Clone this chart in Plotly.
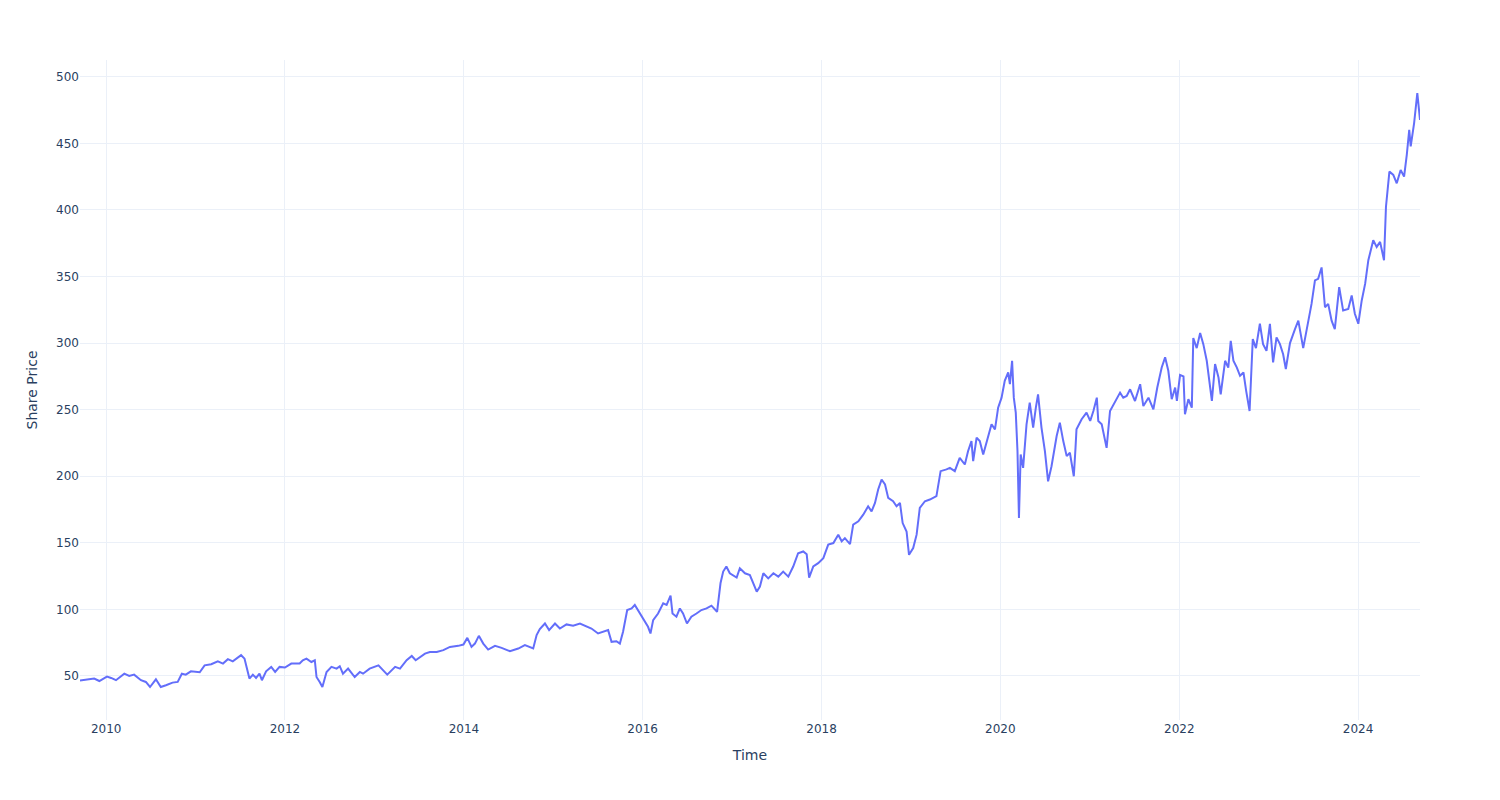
import plotly.graph_objects as go

dates = [
    "2009-09-16", "2009-10-24", "2009-11-13", "2009-12-04", "2010-01-04", "2010-01-21", "2010-02-10",
    "2010-03-16", "2010-04-05", "2010-04-25", "2010-05-23", "2010-06-12", "2010-06-29", "2010-07-23",
    "2010-08-12", "2010-09-02", "2010-09-29", "2010-10-20", "2010-11-06", "2010-11-22", "2010-12-13",
    "2011-01-18", "2011-02-07", "2011-03-06", "2011-04-02", "2011-04-23", "2011-05-13", "2011-06-02",
    "2011-07-06", "2011-07-20", "2011-08-03", "2011-08-09", "2011-08-23", "2011-09-05", "2011-09-19",
    "2011-09-29", "2011-10-16", "2011-11-06", "2011-11-22", "2011-12-10", "2012-01-01", "2012-01-27",
    "2012-03-01", "2012-03-14", "2012-03-29", "2012-04-18", "2012-05-02", "2012-05-09", "2012-05-22",
    "2012-06-02", "2012-06-19", "2012-07-09", "2012-07-30", "2012-08-12", "2012-08-25", "2012-09-15",
    "2012-10-12", "2012-11-02", "2012-11-15", "2012-12-12", "2013-01-17", "2013-02-06", "2013-02-22",
    "2013-03-26", "2013-04-15", "2013-05-12", "2013-06-02", "2013-06-18", "2013-07-26", "2013-08-15",
    "2013-09-12", "2013-10-09", "2013-11-05", "2013-12-09", "2013-12-30", "2014-01-15", "2014-02-01",
    "2014-02-15", "2014-03-03", "2014-03-21", "2014-04-10", "2014-05-08", "2014-06-04", "2014-07-08",
    "2014-08-11", "2014-09-07", "2014-10-11", "2014-10-25", "2014-11-07", "2014-11-28", "2014-12-15",
    "2015-01-08", "2015-01-28", "2015-02-24", "2015-03-23", "2015-04-20", "2015-05-10", "2015-06-06",
    "2015-07-03", "2015-07-24", "2015-08-13", "2015-08-27", "2015-09-16", "2015-09-30", "2015-10-13",
    "2015-10-30", "2015-11-17", "2015-11-30", "2015-12-13", "2016-01-03", "2016-01-23", "2016-02-02",
    "2016-02-13", "2016-03-04", "2016-03-25", "2016-04-08", "2016-04-24", "2016-05-02", "2016-05-18",
    "2016-06-01", "2016-06-14", "2016-06-30", "2016-07-18", "2016-08-08", "2016-08-28", "2016-09-18",
    "2016-10-08", "2016-10-31", "2016-11-14", "2016-11-25", "2016-12-08", "2016-12-22", "2017-01-19",
    "2017-02-01", "2017-02-22", "2017-03-14", "2017-03-28", "2017-04-11", "2017-04-24", "2017-05-08",
    "2017-05-28", "2017-06-18", "2017-07-08", "2017-07-28", "2017-08-18", "2017-09-07", "2017-09-27",
    "2017-10-18", "2017-11-01", "2017-11-11", "2017-11-28", "2017-12-18", "2018-01-08", "2018-01-28",
    "2018-02-18", "2018-03-10", "2018-03-24", "2018-04-06", "2018-04-27", "2018-05-10", "2018-05-31",
    "2018-06-20", "2018-07-10", "2018-07-24", "2018-08-07", "2018-08-20", "2018-09-03", "2018-09-17",
    "2018-09-30", "2018-10-20", "2018-11-03", "2018-11-17", "2018-11-28", "2018-12-14", "2018-12-24",
    "2019-01-10", "2019-01-24", "2019-02-06", "2019-02-27", "2019-03-19", "2019-04-15", "2019-05-02",
    "2019-05-26", "2019-06-09", "2019-06-29", "2019-07-19", "2019-08-09", "2019-08-22", "2019-09-05",
    "2019-09-12", "2019-09-26", "2019-10-09", "2019-10-23", "2019-11-12", "2019-11-26", "2019-12-10",
    "2019-12-23", "2020-01-06", "2020-01-19", "2020-02-02", "2020-02-09", "2020-02-18", "2020-02-25",
    "2020-03-04", "2020-03-11", "2020-03-17", "2020-03-24", "2020-04-03", "2020-04-17", "2020-04-30",
    "2020-05-14", "2020-05-25", "2020-06-03", "2020-06-17", "2020-07-01", "2020-07-14", "2020-07-28",
    "2020-08-18", "2020-08-31", "2020-09-14", "2020-09-28", "2020-10-11", "2020-10-27", "2020-11-03",
    "2020-11-07", "2020-11-28", "2020-12-18", "2021-01-02", "2021-01-15", "2021-01-29", "2021-02-04",
    "2021-02-18", "2021-03-03", "2021-03-10", "2021-03-24", "2021-04-13", "2021-05-04", "2021-05-17",
    "2021-05-31", "2021-06-14", "2021-07-04", "2021-07-25", "2021-08-07", "2021-08-28", "2021-09-17",
    "2021-10-03", "2021-10-21", "2021-11-04", "2021-11-17", "2021-12-01", "2021-12-15", "2021-12-22",
    "2022-01-04", "2022-01-18", "2022-01-24", "2022-02-07", "2022-02-21", "2022-02-27", "2022-03-13",
    "2022-03-27", "2022-04-09", "2022-04-23", "2022-05-04", "2022-05-14", "2022-05-27", "2022-06-10",
    "2022-06-19", "2022-07-07", "2022-07-20", "2022-07-30", "2022-08-10", "2022-08-24", "2022-09-06",
    "2022-09-20", "2022-10-01", "2022-10-15", "2022-10-28", "2022-11-10", "2022-11-26", "2022-12-09",
    "2022-12-23", "2023-01-06", "2023-01-19", "2023-02-02", "2023-02-16", "2023-03-01", "2023-03-12",
    "2023-03-29", "2023-04-18", "2023-05-02", "2023-05-22", "2023-06-11", "2023-06-25", "2023-07-09",
    "2023-07-22", "2023-08-05", "2023-08-19", "2023-09-01", "2023-09-15", "2023-09-28", "2023-10-16",
    "2023-11-01", "2023-11-22", "2023-12-06", "2023-12-19", "2024-01-02", "2024-01-16", "2024-01-30",
    "2024-02-12", "2024-03-03", "2024-03-17", "2024-03-31", "2024-04-16", "2024-04-24", "2024-05-08",
    "2024-05-24", "2024-06-07", "2024-06-23", "2024-07-07", "2024-07-18", "2024-07-28", "2024-08-03",
    "2024-08-17", "2024-08-30", "2024-09-10",
]

prices = [
    46.5, 47.5, 48.0, 46.2, 49.5, 48.5, 46.8,
    51.7, 50.0, 51.0, 46.8, 45.5, 41.7, 47.5,
    41.7, 43.0, 45.0, 45.5, 51.7, 51.0, 53.5,
    52.8, 58.0, 58.8, 61.0, 59.3, 62.6, 61.0,
    65.6, 63.0, 53.0, 48.0, 51.0, 48.5, 51.7,
    46.8, 53.5, 56.8, 53.0, 56.8, 56.3, 59.3,
    59.3, 61.8, 63.0, 60.5, 61.8, 49.2, 45.5,
    41.7, 53.0, 56.8, 55.5, 57.3, 51.7, 55.5,
    49.2, 53.0, 51.7, 55.5, 58.0, 54.3, 51.0,
    56.8, 55.5, 61.8, 65.0, 61.8, 66.8, 68.0,
    68.0, 69.4, 71.8, 72.6, 73.6, 78.6, 71.8,
    74.3, 80.1, 74.3, 69.8, 72.6, 71.1, 68.6,
    70.6, 73.1, 70.6, 80.7, 85.2, 89.4, 84.4,
    89.4, 85.6, 88.7, 87.7, 89.4, 87.7, 85.6,
    81.9, 83.2, 84.4, 75.6, 76.1, 74.3, 83.2,
    99.5, 100.7, 103.3, 99.5, 93.2, 86.9, 81.9,
    91.9, 96.9, 104.5, 103.3, 110.3, 96.9, 94.5,
    100.7, 96.9, 89.4, 94.5, 96.9, 99.5, 100.7,
    102.8, 98.2, 119.6, 128.4, 132.2, 127.1, 123.9,
    130.9, 127.1, 125.8, 119.6, 113.3, 117.1, 127.1,
    123.3, 127.1, 124.6, 128.4, 124.6, 132.2, 142.2,
    143.5, 141.4, 123.9, 132.2, 134.7, 138.5, 148.6,
    149.8, 156.1, 151.1, 153.5, 149.0, 163.7, 166.1,
    171.1, 177.4, 173.6, 179.9, 190.0, 197.5, 193.8,
    183.7, 181.2, 177.4, 179.9, 164.8, 158.5, 141.0,
    146.0, 156.1, 176.2, 181.2, 182.5, 185.0, 203.8,
    205.1, 206.3, 203.8, 213.8, 208.8, 218.8, 226.4,
    211.3, 228.9, 226.4, 216.3, 228.9, 239.0, 235.2,
    251.5, 259.0, 271.6, 277.9, 269.1, 286.7, 259.0,
    247.7, 218.8, 168.6, 216.3, 206.3, 239.0, 255.3,
    236.5, 251.5, 261.5, 236.5, 218.8, 196.2, 207.5,
    230.2, 240.2, 226.4, 215.1, 217.6, 200.0, 221.3,
    235.2, 242.8, 247.8, 241.5, 249.0, 259.0, 241.5,
    239.0, 226.4, 221.3, 249.0, 255.3, 262.8, 259.0,
    260.3, 265.3, 256.5, 269.1, 252.7, 259.0, 250.2,
    266.6, 281.7, 289.3, 279.2, 257.8, 266.6, 256.5,
    276.0, 275.0, 246.5, 257.8, 251.5, 303.8, 296.2,
    307.5, 299.2, 286.7, 271.6, 256.5, 284.2, 274.1,
    261.5, 286.7, 281.6, 301.7, 286.7, 281.6, 275.4,
    277.9, 264.1, 249.0, 303.0, 296.2, 314.5, 299.2,
    294.2, 314.5, 285.5, 304.3, 299.2, 291.6, 280.5,
    300.0, 310.3, 316.8, 296.2, 316.8, 329.4, 347.0,
    348.2, 356.8, 326.9, 329.4, 316.8, 310.5, 342.0,
    324.4, 325.6, 335.7, 322.0, 314.5, 332.0, 344.6,
    362.2, 377.3, 372.2, 376.0, 362.2, 402.4, 428.8,
    426.3, 420.0, 430.0, 425.0, 441.4, 460.2, 447.7,
    465.2, 487.8, 467.6,
]

fig = go.Figure(
    go.Scatter(
        x=dates,
        y=prices,
        mode="lines",
        line=dict(color="#636efa", width=2),
        showlegend=False,
    )
)

fig.update_layout(
    template="plotly_white",
    width=1492,
    height=792,
    margin=dict(l=72, r=80, t=52, b=80),
    font=dict(family="DejaVu Sans, Verdana, sans-serif"),
    xaxis_title="Time",
    yaxis_title="Share Price",
)

fig.write_html("out.html")
